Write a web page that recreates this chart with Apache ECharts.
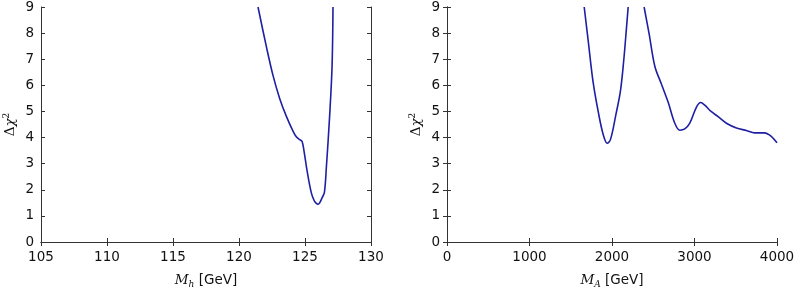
<!DOCTYPE html>
<html><head><meta charset="utf-8">
<script src="https://cdn.jsdelivr.net/npm/echarts@6/dist/echarts.min.js"></script>
<style>html,body{margin:0;padding:0;background:#fff}#c{width:798px;height:294px}</style>
</head><body><div id="c"></div>
<script>
// Left panel: Delta chi^2 vs M_h [GeV]
const mhX = [121.44,122.07,122.58,123.08,123.59,124.09,124.34,124.6,124.78,124.92,125.15,125.48,125.7,125.86,125.98,126.11,126.3,126.47,126.62,126.87,127.05,127.12];
const mhY = [9.0,7.49,6.37,5.5,4.81,4.25,4.03,3.92,3.85,3.5,2.75,1.88,1.58,1.48,1.45,1.5,1.7,1.9,2.87,4.86,6.73,9.0];
// Right panel: Delta chi^2 vs M_A [GeV] (curve leaves the frame between ~2200 and ~2390)
const maX = [1663,1711,1772,1833,1893,1942,1982,2046,2103,2143,2176,2196,null,2389,2450,2519,2600,2680,2761,2822,2882,2943,3024,3076,3124,3205,3286,3387,3508,3629,3730,3851,3911,3960,4000];
const maY = [9.0,7.72,6.1,4.99,4.12,3.78,3.93,4.86,5.8,6.98,8.22,9.0,null,9.0,7.97,6.73,6.04,5.36,4.55,4.28,4.33,4.55,5.17,5.34,5.24,4.99,4.80,4.55,4.37,4.27,4.18,4.18,4.09,3.95,3.8];
const yTicks = [0,1,2,3,4,5,6,7,8,9];
const mhTicks = [105,110,115,120,125,130];
const maTicks = [0,1000,2000,3000,4000];

const lineColor = '#1f1fa3';
const axisColor = '#333';
const font = 'DejaVu Sans';
const chart = echarts.init(document.getElementById('c'), null, {renderer:'canvas'});
const pair = (xs, ys) => xs.map((x,i)=> x === null ? [null, null] : [x, ys[i]]);

function xAxes(gi, ticks, nameRich) {
  const min = ticks[0], max = ticks[ticks.length-1], interval = ticks[1]-ticks[0];
  return [{
    type:'value', gridIndex:gi, min, max, interval, position:'bottom',
    axisLine:{show:true, lineStyle:{color:axisColor, width:1}},
    axisTick:{show:true, inside:true, length:4, lineStyle:{color:axisColor}},
    splitLine:{show:false},
    axisLabel:{color:'#111', fontFamily:font, fontSize:13.5, margin:8, formatter:v=>String(v)},
    name: nameRich, nameLocation:'middle', nameGap:30,
    nameTextStyle:{color:'#111', fontFamily:font, fontSize:13.5,
      rich:{
        i:{fontFamily:'DejaVu Serif', fontStyle:'italic', fontSize:13.5, color:'#111'},
        s:{fontFamily:'DejaVu Serif', fontStyle:'italic', fontSize:9, color:'#111', padding:[8,0,0,0]},
        t:{fontFamily:font, fontSize:13.5, color:'#111'}
      }}
  },{
    type:'value', gridIndex:gi, min, max, interval, position:'top',
    axisLine:{show:true, lineStyle:{color:axisColor, width:1}},
    axisTick:{show:true, inside:true, length:4, lineStyle:{color:axisColor}},
    axisLabel:{show:false}, splitLine:{show:false}
  }];
}
function yAxes(gi) {
  const min = yTicks[0], max = yTicks[yTicks.length-1];
  return [{
    type:'value', gridIndex:gi, min, max, interval:1, position:'left',
    axisLine:{show:true, lineStyle:{color:axisColor, width:1}},
    axisTick:{show:true, inside:true, length:4, lineStyle:{color:axisColor}},
    splitLine:{show:false},
    axisLabel:{color:'#111', fontFamily:font, fontSize:13.5, margin:7},
    name:'{d|Δ}{c|χ}{p|2}', nameLocation:'middle', nameGap:22, nameRotate:90,
    nameTextStyle:{color:'#111',
      rich:{
        d:{fontFamily:'DejaVu Serif', fontSize:13.5, color:'#111'},
        c:{fontFamily:'DejaVu Serif', fontStyle:'italic', fontSize:13.5, color:'#111'},
        p:{fontFamily:'DejaVu Serif', fontSize:9, color:'#111', padding:[0,0,8,0]}
      }}
  },{
    type:'value', gridIndex:gi, min, max, interval:1, position:'right',
    axisLine:{show:true, lineStyle:{color:axisColor, width:1}},
    axisTick:{show:true, inside:true, length:4, lineStyle:{color:axisColor}},
    axisLabel:{show:false}, splitLine:{show:false}
  }];
}

const xa = [...xAxes(0, mhTicks, '{i|M}{s|h}{t| [GeV]}'), ...xAxes(1, maTicks, '{i|M}{s|A}{t| [GeV]}')];
const ya = [...yAxes(0), ...yAxes(1)];

chart.setOption({
  animation:false,
  backgroundColor:'#fff',
  grid:[
    {left:41, top:6, width:330, height:241},
    {left:447, top:6, width:330, height:241}
  ],
  xAxis: xa,
  yAxis: ya,
  series:[
    {type:'line', xAxisIndex:0, yAxisIndex:0, data:pair(mhX,mhY), smooth:0.35, showSymbol:false,
     lineStyle:{color:lineColor, width:1.6}, clip:true},
    {type:'line', xAxisIndex:2, yAxisIndex:2, data:pair(maX,maY), smooth:0.35, showSymbol:false,
     connectNulls:false, lineStyle:{color:lineColor, width:1.6}, clip:true}
  ]
});
</script></body></html>
